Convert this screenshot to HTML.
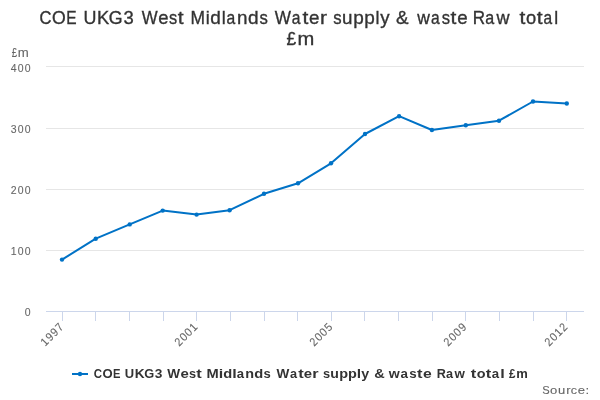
<!DOCTYPE html>
<html><head><meta charset="utf-8"><style>
html,body{margin:0;padding:0;background:#fff;width:600px;height:400px;overflow:hidden}
svg{display:block;will-change:transform}
text{font-family:"Liberation Sans", sans-serif}
</style></head><body>
<svg width="600" height="400" viewBox="0 0 600 400">
<rect width="600" height="400" fill="#fff"/>
<g fill="#333333" font-size="18.75" stroke="#333333" stroke-width="0.35">
<text transform="translate(39.41,23.75) scale(0.884,1)">C</text>
<text transform="translate(51.88,23.75) scale(0.941,1)">O</text>
<text transform="translate(66.25,23.75) scale(0.825,1)">E</text>
<text transform="translate(83.62,23.75) scale(0.956,1)">U</text>
<text transform="translate(97.05,23.75) scale(0.981,1)">K</text>
<text transform="translate(108.85,23.75) scale(0.949,1)">G</text>
<text transform="translate(123.54,23.75) scale(0.985,1)">3</text>
<text transform="translate(141.68,23.75) scale(0.898,1)">W</text>
<text transform="translate(158.22,23.75) scale(0.984,1)">e</text>
<text transform="translate(169.04,23.75) scale(0.873,1)">s</text>
<text transform="translate(177.84,23.75) scale(1.120,1)">t</text>
<text transform="translate(190.47,23.75) scale(0.929,1)">M</text>
<text transform="translate(205.72,23.75) scale(0.953,1)">i</text>
<text transform="translate(210.29,23.75) scale(1.013,1)">d</text>
<text transform="translate(221.66,23.75) scale(0.953,1)">l</text>
<text transform="translate(226.45,23.75) scale(0.838,1)">a</text>
<text transform="translate(237.11,23.75) scale(1.005,1)">n</text>
<text transform="translate(248.02,23.75) scale(1.013,1)">d</text>
<text transform="translate(259.43,23.75) scale(0.893,1)">s</text>
<text transform="translate(274.67,23.75) scale(0.915,1)">W</text>
<text transform="translate(291.75,23.75) scale(0.834,1)">a</text>
<text transform="translate(302.46,23.75) scale(1.120,1)">t</text>
<text transform="translate(309.01,23.75) scale(1.002,1)">e</text>
<text transform="translate(319.89,23.75) scale(1.120,1)">r</text>
<text transform="translate(333.23,23.75) scale(0.892,1)">s</text>
<text transform="translate(342.10,23.75) scale(1.003,1)">u</text>
<text transform="translate(353.26,23.75) scale(1.012,1)">p</text>
<text transform="translate(364.34,23.75) scale(1.012,1)">p</text>
<text transform="translate(375.49,23.75) scale(0.951,1)">l</text>
<text transform="translate(380.37,23.75) scale(0.999,1)">y</text>
<text transform="translate(396.04,23.75) scale(1.004,1)">&amp;</text>
<text transform="translate(417.13,23.75) scale(0.934,1)">w</text>
<text transform="translate(430.92,23.75) scale(0.831,1)">a</text>
<text transform="translate(441.63,23.75) scale(0.885,1)">s</text>
<text transform="translate(450.60,23.75) scale(1.120,1)">t</text>
<text transform="translate(457.13,23.75) scale(0.998,1)">e</text>
<text transform="translate(472.85,23.75) scale(0.911,1)">R</text>
<text transform="translate(485.29,23.75) scale(0.856,1)">a</text>
<text transform="translate(496.62,23.75) scale(0.963,1)">w</text>
<text transform="translate(519.54,23.75) scale(1.120,1)">t</text>
<text transform="translate(526.07,23.75) scale(0.976,1)">o</text>
<text transform="translate(536.83,23.75) scale(1.120,1)">t</text>
<text transform="translate(543.55,23.75) scale(0.826,1)">a</text>
<text transform="translate(554.17,23.75) scale(0.939,1)">l</text>
<text x="286.54" y="45.1" textLength="9.65" lengthAdjust="spacingAndGlyphs">£</text>
<text x="297.56" y="45.1" textLength="16.79" lengthAdjust="spacingAndGlyphs">m</text>
</g>
<g fill="#e6e6e6"><rect x="46" y="66" width="538" height="1"/><rect x="46" y="128" width="538" height="1"/><rect x="46" y="189" width="538" height="1"/><rect x="46" y="250" width="538" height="1"/></g>
<g fill="#ccd6eb"><rect x="46" y="311" width="538" height="1"/><rect x="62" y="312" width="1" height="9"/><rect x="95" y="312" width="1" height="9"/><rect x="129" y="312" width="1" height="9"/><rect x="163" y="312" width="1" height="9"/><rect x="196" y="312" width="1" height="9"/><rect x="230" y="312" width="1" height="9"/><rect x="264" y="312" width="1" height="9"/><rect x="297" y="312" width="1" height="9"/><rect x="331" y="312" width="1" height="9"/><rect x="364" y="312" width="1" height="9"/><rect x="398" y="312" width="1" height="9"/><rect x="432" y="312" width="1" height="9"/><rect x="465" y="312" width="1" height="9"/><rect x="499" y="312" width="1" height="9"/><rect x="533" y="312" width="1" height="9"/><rect x="566" y="312" width="1" height="9"/></g>
<g fill="#666666" font-size="11.65" stroke="#666666" stroke-width="0.1">
</g><g fill="#666666" font-size="12.7" stroke="#666666" stroke-width="0.1"><text x="11.72" y="56.8" textLength="5.32" lengthAdjust="spacingAndGlyphs">£</text>
<text x="17.89" y="56.8" textLength="10.97" lengthAdjust="spacingAndGlyphs">m</text></g><g fill="#666666" font-size="11.65" stroke="#666666" stroke-width="0.1">
<text transform="scale(0.9,1)" x="11.89 19.67 27.44" y="71.7">400</text>
<text transform="scale(0.9,1)" x="11.89 19.67 27.44" y="132.9">300</text>
<text transform="scale(0.9,1)" x="11.89 19.67 27.44" y="194">200</text>
<text transform="scale(0.9,1)" x="11.89 19.67 27.44" y="255">100</text>
<text transform="scale(0.9,1)" x="27.44" y="315.9">0</text>
<text transform="translate(542.29,394) scale(0.958,1)">S</text>
<text transform="translate(550.12,394) scale(1.120,1)">o</text>
<text transform="translate(557.89,394) scale(1.120,1)">u</text>
<text transform="translate(566.16,394) scale(1.120,1)">r</text>
<text transform="translate(570.82,394) scale(1.078,1)">c</text>
<text transform="translate(577.79,394) scale(1.120,1)">e</text>
<text transform="translate(585.54,394) scale(1.120,1)">:</text>
</g>
<g fill="#666666" font-size="11.65" stroke="#666666" stroke-width="0.1">
<text transform="translate(65,327) rotate(-45) scale(0.9,1)" x="-31.11 -23.33 -15.56 -7.78">1997</text>
<text transform="translate(199,327) rotate(-45) scale(0.9,1)" x="-31.11 -23.33 -15.56 -7.78">2001</text>
<text transform="translate(334,327) rotate(-45) scale(0.9,1)" x="-31.11 -23.33 -15.56 -7.78">2005</text>
<text transform="translate(468,327) rotate(-45) scale(0.9,1)" x="-31.11 -23.33 -15.56 -7.78">2009</text>
<text transform="translate(569,327) rotate(-45) scale(0.9,1)" x="-31.11 -23.33 -15.56 -7.78">2012</text>
</g>
<polyline points="62.00,259.6 95.75,238.7 129.70,224.4 162.70,210.6 196.60,214.6 229.60,210.2 264.00,193.8 298.00,183.3 331.00,163.3 365.00,134.0 399.10,116.2 431.90,130.0 465.80,125.3 499.00,120.7 533.00,101.5 566.80,103.5" fill="none" stroke="#0072c6" stroke-width="2" stroke-linejoin="round" stroke-linecap="round"/>
<g fill="#0072c6"><circle cx="62.00" cy="259.6" r="2.2"/><circle cx="95.75" cy="238.7" r="2.2"/><circle cx="129.70" cy="224.4" r="2.2"/><circle cx="162.70" cy="210.6" r="2.2"/><circle cx="196.60" cy="214.6" r="2.2"/><circle cx="229.60" cy="210.2" r="2.2"/><circle cx="264.00" cy="193.8" r="2.2"/><circle cx="298.00" cy="183.3" r="2.2"/><circle cx="331.00" cy="163.3" r="2.2"/><circle cx="365.00" cy="134.0" r="2.2"/><circle cx="399.10" cy="116.2" r="2.2"/><circle cx="431.90" cy="130.0" r="2.2"/><circle cx="465.80" cy="125.3" r="2.2"/><circle cx="499.00" cy="120.7" r="2.2"/><circle cx="533.00" cy="101.5" r="2.2"/><circle cx="566.80" cy="103.5" r="2.2"/></g>
<rect x="72" y="373" width="16" height="2" fill="#0072c6"/>
<circle cx="80" cy="374" r="2.2" fill="#0072c6"/>
<g fill="#333333" font-size="12.7" font-weight="bold">
<text transform="translate(93.63,377.8) scale(0.906,1)">C</text>
<text transform="translate(102.46,377.8) scale(1.031,1)">O</text>
<text transform="translate(113.07,377.8) scale(0.882,1)">E</text>
<text transform="translate(124.82,377.8) scale(1.022,1)">U</text>
<text transform="translate(134.76,377.8) scale(1.079,1)">K</text>
<text transform="translate(144.25,377.8) scale(1.010,1)">G</text>
<text transform="translate(154.87,377.8) scale(1.080,1)">3</text>
<text transform="translate(167.24,377.8) scale(1.071,1)">W</text>
<text transform="translate(180.39,377.8) scale(1.177,1)">e</text>
<text transform="translate(188.98,377.8) scale(1.001,1)">s</text>
<text transform="translate(196.23,377.8) scale(1.300,1)">t</text>
<text transform="translate(206.52,377.8) scale(1.156,1)">M</text>
<text transform="translate(218.87,377.8) scale(1.269,1)">i</text>
<text transform="translate(223.23,377.8) scale(1.160,1)">d</text>
<text transform="translate(232.26,377.8) scale(1.269,1)">l</text>
<text transform="translate(236.82,377.8) scale(1.034,1)">a</text>
<text transform="translate(245.31,377.8) scale(1.134,1)">n</text>
<text transform="translate(254.17,377.8) scale(1.160,1)">d</text>
<text transform="translate(263.46,377.8) scale(1.030,1)">s</text>
<text transform="translate(276.59,377.8) scale(1.069,1)">W</text>
<text transform="translate(289.92,377.8) scale(1.002,1)">a</text>
<text transform="translate(298.17,377.8) scale(1.300,1)">t</text>
<text transform="translate(303.86,377.8) scale(1.174,1)">e</text>
<text transform="translate(312.20,377.8) scale(1.274,1)">r</text>
<text transform="translate(323.05,377.8) scale(1.011,1)">s</text>
<text transform="translate(330.34,377.8) scale(1.113,1)">u</text>
<text transform="translate(339.18,377.8) scale(1.139,1)">p</text>
<text transform="translate(348.07,377.8) scale(1.139,1)">p</text>
<text transform="translate(356.81,377.8) scale(1.246,1)">l</text>
<text transform="translate(361.17,377.8) scale(1.120,1)">y</text>
<text transform="translate(374.16,377.8) scale(1.144,1)">&amp;</text>
<text transform="translate(388.84,377.8) scale(1.112,1)">w</text>
<text transform="translate(400.47,377.8) scale(1.058,1)">a</text>
<text transform="translate(409.25,377.8) scale(1.054,1)">s</text>
<text transform="translate(417.04,377.8) scale(1.300,1)">t</text>
<text transform="translate(422.89,377.8) scale(1.239,1)">e</text>
<text transform="translate(436.65,377.8) scale(0.998,1)">R</text>
<text transform="translate(445.94,377.8) scale(0.998,1)">a</text>
<text transform="translate(454.50,377.8) scale(1.050,1)">w</text>
<text transform="translate(470.82,377.8) scale(1.300,1)">t</text>
<text transform="translate(476.67,377.8) scale(1.135,1)">o</text>
<text transform="translate(485.71,377.8) scale(1.300,1)">t</text>
<text transform="translate(491.73,377.8) scale(1.044,1)">a</text>
<text transform="translate(500.13,377.8) scale(1.282,1)">l</text>
<text transform="translate(508.88,377.8) scale(0.914,1)">£</text>
<text transform="translate(516.23,377.8) scale(1.025,1)">m</text>
</g>
</svg>
</body></html>
